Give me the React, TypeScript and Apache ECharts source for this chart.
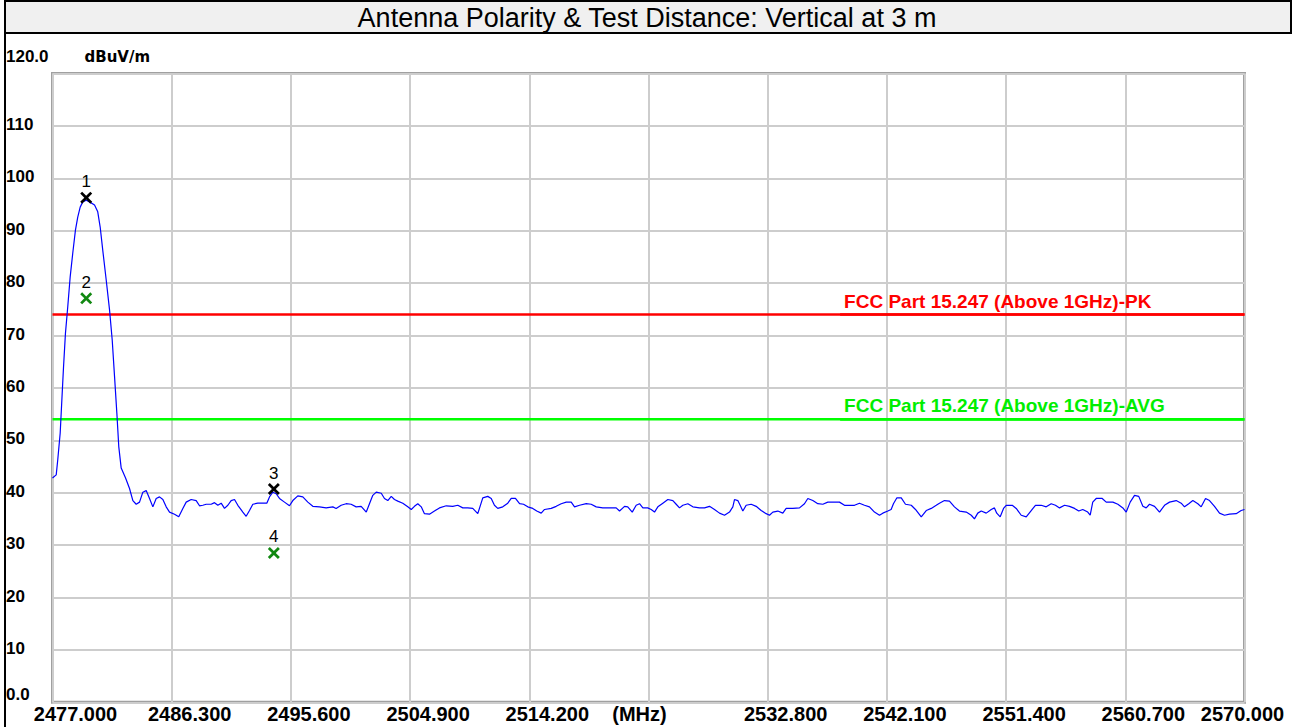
import React, { useEffect, useRef } from 'react';
import * as echarts from 'echarts';

const TITLE = 'Antenna Polarity & Test Distance: Vertical at 3 m';
const UNIT = 'dBuV/m';
const F_START = 2477;
const F_STOP = 2570;
const F_STEP = 9.3;
const X_TICK_LABELS = ['2477.000', '2486.300', '2495.600', '2504.900', '2514.200', '(MHz)', '2532.800', '2542.100', '2551.400', '2560.700', '2570.000'];
const Y_MIN = 0;
const Y_MAX = 120;
const Y_STEP = 10;

const traceFreq = [
  2477.00, 2477.29, 2477.41, 2477.60, 2477.73, 2477.86, 2478.01, 2478.19, 2478.38, 2478.58,
  2478.79, 2478.97, 2479.16, 2479.36, 2479.63, 2479.89, 2480.28, 2480.53, 2480.72, 2480.92,
  2481.19, 2481.45, 2481.66, 2481.84, 2482.02, 2482.17, 2482.36, 2482.70, 2483.01, 2483.27,
  2483.53, 2483.79, 2484.05, 2484.31, 2484.57, 2484.83, 2485.09, 2485.35, 2485.61, 2485.87,
  2486.13, 2486.52, 2486.85, 2487.17, 2487.43, 2487.82, 2488.21, 2488.47, 2488.73, 2488.99,
  2489.38, 2489.64, 2489.90, 2490.16, 2490.42, 2490.68, 2490.94, 2491.20, 2491.46, 2491.85,
  2492.11, 2492.37, 2492.63, 2493.02, 2493.41, 2493.72, 2493.93, 2494.19, 2494.45, 2494.71,
  2495.10, 2495.49, 2495.75, 2496.14, 2496.53, 2496.92, 2497.31, 2497.83, 2498.35, 2498.87,
  2499.13, 2499.52, 2499.91, 2500.30, 2500.69, 2501.08, 2501.48, 2501.73, 2501.99, 2502.26,
  2502.65, 2502.90, 2503.16, 2503.43, 2503.68, 2503.94, 2504.33, 2504.72, 2504.99, 2505.24,
  2505.50, 2505.77, 2506.02, 2506.41, 2506.80, 2507.19, 2507.72, 2508.23, 2508.62, 2509.01,
  2509.40, 2509.79, 2510.18, 2510.57, 2510.96, 2511.23, 2511.48, 2511.74, 2512.13, 2512.52,
  2512.79, 2513.12, 2513.44, 2513.75, 2514.08, 2514.47, 2514.78, 2515.13, 2515.39, 2515.91,
  2516.30, 2516.69, 2517.08, 2517.47, 2517.73, 2518.12, 2518.64, 2519.03, 2519.42, 2519.93,
  2520.46, 2520.98, 2521.24, 2521.63, 2521.88, 2522.23, 2522.54, 2522.80, 2523.06, 2523.44,
  2523.71, 2523.97, 2524.23, 2524.62, 2525.01, 2525.40, 2525.66, 2525.92, 2526.18, 2526.57,
  2526.96, 2527.48, 2527.87, 2528.26, 2528.65, 2529.04, 2529.43, 2529.82, 2530.08, 2530.21,
  2530.47, 2530.65, 2530.86, 2531.12, 2531.51, 2531.90, 2532.29, 2532.68, 2532.94, 2533.20,
  2533.59, 2533.98, 2534.24, 2534.76, 2535.28, 2535.67, 2535.93, 2536.32, 2536.71, 2537.10,
  2537.49, 2537.88, 2538.40, 2538.79, 2539.18, 2539.57, 2539.96, 2540.35, 2540.74, 2541.13,
  2541.52, 2541.78, 2542.17, 2542.43, 2542.61, 2542.87, 2543.22, 2543.55, 2544.00, 2544.33,
  2544.78, 2545.17, 2545.56, 2545.95, 2546.20, 2546.59, 2546.98, 2547.37, 2547.76, 2548.29,
  2548.68, 2548.93, 2549.19, 2549.46, 2549.85, 2550.24, 2550.49, 2550.67, 2550.94, 2551.20,
  2551.41, 2551.88, 2552.19, 2552.58, 2552.97, 2553.36, 2553.69, 2554.14, 2554.53, 2554.92,
  2555.25, 2555.57, 2555.96, 2556.35, 2556.74, 2557.07, 2557.38, 2557.77, 2557.96, 2558.16,
  2558.43, 2558.90, 2559.21, 2559.73, 2560.12, 2560.51, 2560.77, 2561.08, 2561.42, 2561.75,
  2562.07, 2562.33, 2562.59, 2562.98, 2563.37, 2563.76, 2564.15, 2564.67, 2565.06, 2565.32,
  2565.65, 2565.97, 2566.36, 2566.62, 2566.96, 2567.27, 2567.66, 2568.05, 2568.44, 2568.83,
  2569.35, 2569.74, 2570.00,
];

const traceLevel = [
  42.8, 43.4, 46.3, 51.4, 57.7, 64.0, 70.4, 75.5, 81.2, 85.7,
  90.1, 92.6, 94.5, 95.5, 95.8, 95.5, 94.9, 93.6, 90.7, 86.3,
  80.6, 74.9, 69.1, 62.2, 55.2, 48.8, 44.7, 42.8, 40.8, 38.5,
  37.8, 38.2, 40.1, 40.4, 38.9, 37.3, 38.9, 39.2, 38.7, 37.3,
  36.3, 35.9, 35.4, 37.0, 38.2, 38.7, 38.5, 37.5, 37.6, 37.8,
  37.8, 38.1, 37.6, 38.0, 37.0, 37.6, 38.5, 38.7, 37.6, 36.3,
  35.5, 36.6, 37.8, 38.0, 38.0, 38.0, 39.2, 40.1, 39.8, 38.9,
  38.2, 37.5, 38.5, 39.4, 39.2, 38.2, 37.4, 37.3, 37.1, 37.3,
  37.0, 37.6, 37.9, 37.8, 37.3, 37.4, 36.3, 37.9, 39.5, 40.1,
  39.9, 38.9, 38.5, 39.3, 38.7, 38.4, 38.0, 37.3, 36.8, 37.4,
  37.9, 37.3, 36.0, 35.9, 36.5, 37.1, 37.5, 37.4, 37.6, 37.1,
  37.1, 37.0, 36.0, 39.0, 39.3, 38.9, 37.6, 37.0, 37.3, 38.0,
  38.9, 38.9, 37.9, 37.8, 37.3, 37.0, 36.5, 36.1, 36.8, 37.0,
  37.4, 37.9, 38.2, 38.2, 37.3, 37.6, 37.9, 37.8, 37.3, 37.1,
  37.1, 37.1, 36.5, 37.4, 37.3, 36.3, 37.6, 37.9, 37.1, 37.1,
  36.8, 36.3, 37.3, 38.0, 38.7, 38.5, 37.8, 37.1, 37.6, 37.9,
  37.3, 37.1, 37.1, 37.4, 36.8, 36.1, 35.7, 36.3, 37.3, 38.7,
  38.5, 37.6, 36.5, 37.6, 37.8, 37.4, 36.6, 36.0, 35.7, 36.3,
  36.5, 36.1, 37.0, 37.0, 37.1, 37.9, 38.9, 38.5, 37.9, 37.8,
  38.2, 38.2, 38.2, 37.6, 37.6, 37.6, 38.0, 37.6, 37.3, 36.3,
  35.7, 36.1, 36.5, 36.8, 37.9, 39.0, 39.0, 37.8, 37.6, 36.8,
  35.4, 36.6, 37.0, 37.6, 38.0, 38.5, 38.4, 37.3, 36.5, 36.3,
  35.7, 35.0, 36.1, 36.5, 36.1, 36.8, 37.1, 36.1, 35.4, 37.0,
  37.6, 37.6, 37.0, 35.7, 35.4, 36.6, 37.6, 37.6, 37.3, 37.9,
  37.6, 37.1, 37.6, 37.4, 37.0, 36.5, 36.8, 36.3, 35.7, 38.2,
  38.9, 38.9, 38.2, 38.2, 37.8, 37.1, 36.3, 38.2, 39.5, 39.3,
  37.4, 37.1, 37.8, 37.4, 36.3, 37.6, 38.2, 38.5, 38.0, 37.3,
  37.9, 38.5, 37.9, 37.3, 38.9, 38.5, 37.4, 36.1, 35.7, 35.9,
  36.0, 36.6, 36.8,
];

const limitNames = ['FCC Part 15.247 (Above 1GHz)-PK', 'FCC Part 15.247 (Above 1GHz)-AVG'];
const limitLevels = [74, 54];
const limitColors = ['#ff0000', '#00ff00'];
const limitTextColors = ['#ff0000', '#00ee00'];
const limitLabelFreq = 2538.45;

const markerIds = ['1', '2', '3', '4'];
const markerFreq = [2479.63, 2479.63, 2494.27, 2494.27];
const markerLevel = [96.3, 77.1, 40.7, 28.5];
const markerColors = ['#000000', '#118811', '#000000', '#118811'];

const X_SYMBOL = 'path://M0,1.6L1.6,0L5,3.4L8.4,0L10,1.6L6.6,5L10,8.4L8.4,10L5,6.6L1.6,10L0,8.4L3.4,5Z';

export default function App() {
  const ref = useRef<HTMLDivElement>(null);

  useEffect(() => {
    if (!ref.current) return;
    const chart = echarts.init(ref.current, undefined, { renderer: 'svg' });

    const off = (f: number) => f - F_START;
    const n = Math.min(traceFreq.length, traceLevel.length);
    const traceData: number[][] = [];
    for (let i = 0; i < n; i++) traceData.push([off(traceFreq[i]), traceLevel[i]]);

    const limitSeries = limitNames.map((name, i) => ({
      name,
      type: 'line',
      data: [[0, limitLevels[i]], [off(F_STOP), limitLevels[i]]],
      symbol: 'none',
      lineStyle: { color: limitColors[i], width: 2.5 },
      z: 3,
      silent: true,
      markLine: {
        silent: true,
        symbol: 'none',
        lineStyle: { color: limitColors[i], width: 2.5, type: 'solid' },
        label: {
          show: true,
          position: 'insideStartTop',
          distance: 4,
          formatter: name,
          color: limitTextColors[i],
          fontFamily: 'Arial',
          fontWeight: 'bold',
          fontSize: 19,
        },
        data: [[
          { coord: [off(limitLabelFreq), limitLevels[i]] },
          { coord: [off(F_STOP), limitLevels[i]] },
        ]],
      },
    }));

    const markerData = markerIds.map((id, i) => ({
      name: id,
      value: [off(markerFreq[i]), markerLevel[i]],
      itemStyle: { color: markerColors[i], opacity: 1 },
    }));

    const labelFont = { fontFamily: 'Arial', fontWeight: 'bold', color: '#000' };

    chart.setOption({
      animation: false,
      backgroundColor: '#ffffff',
      title: {
        text: TITLE,
        left: 'center',
        top: 4,
        padding: 0,
        textStyle: { fontFamily: 'Arial', fontWeight: 'normal', fontSize: 27, color: '#000', lineHeight: 28 },
      },
      graphic: [
        {
          type: 'rect',
          shape: { x: 5, y: 1, width: 1286, height: 32 },
          style: { fill: '#f0f0f0', stroke: '#000', lineWidth: 2 },
          z: -10,
        },
        {
          type: 'line',
          shape: { x1: 5, y1: 33, x2: 5, y2: 727 },
          style: { stroke: '#000', lineWidth: 2 },
          z: -10,
        },
      ],
      grid: {
        left: 52.5,
        right: 49.5,
        top: 73.5,
        bottom: 24.7,
        show: true,
        containLabel: false,
        outerBoundsMode: 'none',
        borderColor: '#a0a0a0',
        borderWidth: 3,
        backgroundColor: 'transparent',
      },
      xAxis: {
        type: 'value',
        min: 0,
        max: off(F_STOP),
        interval: F_STEP,
        axisLine: { show: false },
        axisTick: { show: false },
        splitLine: { show: true, lineStyle: { color: '#cdcdcd', width: 2 } },
        axisLabel: {
          margin: 2,
          hideOverlap: false,
          formatter: (v: number) => {
            const idx = Math.round(v / F_STEP);
            const t = X_TICK_LABELS[idx] ?? '';
            if (idx === 0) return '{f|' + t + '}';
            if (idx === 5) return '{m|' + t + '}';
            if (idx === 10) return '{l|' + t + '}';
            return '{c|' + t + '}';
          },
          rich: {
            f: { ...labelFont, fontSize: 20, lineHeight: 20, padding: [0, -23, 0, 23] },
            c: { ...labelFont, fontSize: 20, lineHeight: 20, padding: [0, -18, 0, 18] },
            m: { ...labelFont, fontSize: 20, lineHeight: 20, padding: [0, 9, 0, -9] },
            l: { ...labelFont, fontSize: 20, lineHeight: 20, padding: [0, 2, 0, -2] },
          },
        },
      },
      yAxis: {
        type: 'value',
        min: Y_MIN,
        max: Y_MAX,
        interval: Y_STEP,
        name: UNIT,
        nameLocation: 'end',
        nameGap: 9,
        nameTextStyle: {
          fontFamily: 'DejaVu Sans',
          fontWeight: 'bold',
          fontSize: 15,
          color: '#000',
          align: 'left',
          padding: [0, 0, 0, 32],
        },
        axisLine: { show: false },
        axisTick: { show: false },
        splitLine: { show: true, lineStyle: { color: '#cdcdcd', width: 2 } },
        axisLabel: {
          margin: 46.5,
          align: 'left',
          showMinLabel: true,
          showMaxLabel: true,
          formatter: (v: number) => {
            if (v === Y_MAX) return '{t|' + Y_MAX.toFixed(1) + '}';
            if (v === Y_MIN) return '{b|' + Y_MIN.toFixed(1) + '}';
            return '{n|' + v + '}';
          },
          rich: {
            t: { ...labelFont, fontSize: 17, lineHeight: 17, padding: [0, 0, 35, 0] },
            b: { ...labelFont, fontSize: 17, lineHeight: 17, padding: [0, 0, 16, 0] },
            n: { ...labelFont, fontSize: 17, lineHeight: 17, padding: [0, 0, 3, 0] },
          },
        },
      },
      series: [
        ...limitSeries,
        {
          name: 'trace',
          type: 'line',
          data: traceData,
          showSymbol: false,
          symbol: 'none',
          lineStyle: { color: '#0000ff', width: 1.2 },
          z: 4,
          silent: true,
        },
        {
          name: 'markers',
          type: 'scatter',
          data: markerData,
          symbol: X_SYMBOL,
          symbolSize: 12,
          itemStyle: { opacity: 1 },
          z: 5,
          silent: true,
          label: {
            show: true,
            position: 'top',
            distance: 2,
            formatter: (p: any) => p.name,
            fontFamily: 'Arial',
            fontSize: 17,
            lineHeight: 16,
            color: '#000',
          },
        },
      ],
    });

    return () => chart.dispose();
  }, []);

  return (
    <div
      ref={ref}
      style={{ position: 'absolute', left: 0, top: 0, width: 1294, height: 727, background: '#fff' }}
    />
  );
}
